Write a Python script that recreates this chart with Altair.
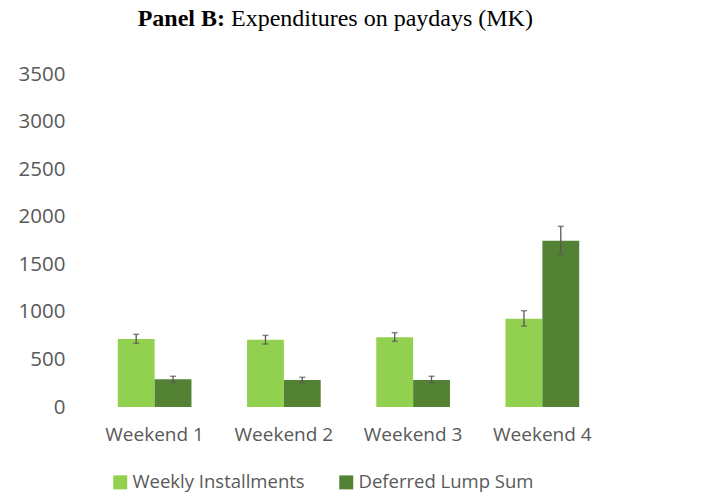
import altair as alt
import pandas as pd

categories = ["Weekend 1", "Weekend 2", "Weekend 3", "Weekend 4"]
series_names = ["Weekly Installments", "Deferred Lump Sum"]
weekly = [715, 707, 733, 928]
weekly_lo = [669, 662, 690, 851]
weekly_hi = [764, 753, 781, 1012]
lump = [291, 284, 284, 1748]
lump_lo = [260, 256, 256, 1605]
lump_hi = [323, 312, 323, 1899]
y_ticks = [0, 500, 1000, 1500, 2000, 2500, 3000, 3500]
colors = ["#92D050", "#548235"]

rows = []
for i, c in enumerate(categories):
    rows.append({"category": c, "series": series_names[0], "value": weekly[i], "lo": weekly_lo[i], "hi": weekly_hi[i]})
    rows.append({"category": c, "series": series_names[1], "value": lump[i], "lo": lump_lo[i], "hi": lump_hi[i]})
df = pd.DataFrame(rows)

x_enc = alt.X("category:N", sort=categories, title=None,
              scale=alt.Scale(paddingInner=0.43, paddingOuter=0.215),
              axis=alt.Axis(labelAngle=0, ticks=False, domain=False, labelFont="Open Sans",
                            labelFontSize=19, labelColor="#595959", labelPadding=18))
xo_enc = alt.XOffset("series:N", sort=series_names, scale=alt.Scale(paddingInner=0, paddingOuter=0))
y_scale = alt.Scale(domain=[0, 3500], nice=False)

base = alt.Chart(df)

bars = base.mark_bar().encode(
    x=x_enc,
    xOffset=xo_enc,
    y=alt.Y("value:Q", scale=y_scale, title=None,
            axis=alt.Axis(values=y_ticks, format="d", grid=False, ticks=False, domain=False,
                          labelFont="Open Sans", labelFontSize=20.5, labelColor="#595959",
                          labelPadding=25)),
    color=alt.Color("series:N", sort=series_names,
                    scale=alt.Scale(domain=series_names, range=colors),
                    legend=alt.Legend(title=None, orient="none", direction="horizontal",
                                      legendX=21, legendY=399, symbolType="square",
                                      symbolSize=196, symbolStrokeWidth=0,
                                      labelFont="Open Sans", labelFontSize=18.5,
                                      labelColor="#595959", columnPadding=32,
                                      labelOffset=3, labelLimit=400)),
)

rules = base.mark_rule(color="#595959", strokeWidth=1.3).encode(
    x=x_enc, xOffset=xo_enc,
    y=alt.Y("lo:Q", scale=y_scale), y2="hi:Q",
)
caps_lo = base.mark_tick(color="#595959", size=6, thickness=1.5).encode(
    x=x_enc, xOffset=xo_enc, y=alt.Y("lo:Q", scale=y_scale),
)
caps_hi = base.mark_tick(color="#595959", size=6, thickness=1.5).encode(
    x=x_enc, xOffset=xo_enc, y=alt.Y("hi:Q", scale=y_scale),
)

title_df = pd.DataFrame({"a": [0]})
title_bold = alt.Chart(title_df).mark_text(
    text="Panel B:", font="Liberation Serif", fontSize=24, fontWeight="bold",
    align="right", baseline="alphabetic", color="black"
).encode(x=alt.value(135), y=alt.value(-48))
title_rest = alt.Chart(title_df).mark_text(
    text="Expenditures on paydays (MK)", font="Liberation Serif", fontSize=24,
    align="left", baseline="alphabetic", color="black"
).encode(x=alt.value(141), y=alt.value(-48))

chart = alt.layer(bars, rules, caps_lo, caps_hi, title_bold, title_rest).properties(
    width=517, height=333,
    autosize=alt.AutoSizeParams(type="none"),
    padding={"left": 90, "top": 74, "right": 94, "bottom": 92},
).configure_view(stroke=None)

chart.save("out.html", embed_options={"renderer": "svg", "actions": False})
